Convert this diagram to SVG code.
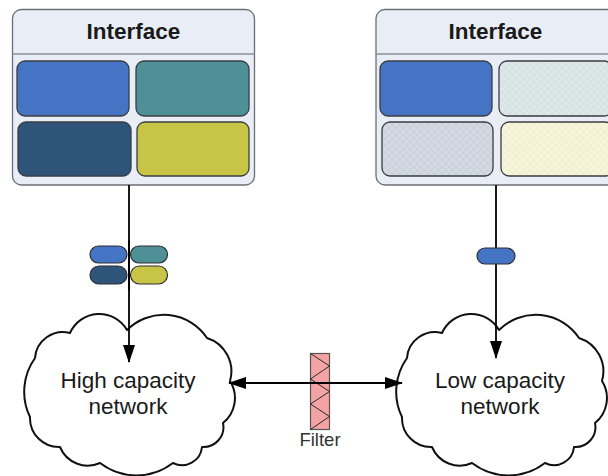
<svg xmlns="http://www.w3.org/2000/svg" width="608" height="476" viewBox="0 0 608 476">
  <style>
    .panel { fill: #e9edf5; stroke: #6b6f76; stroke-width: 1.3; }
    .sep { stroke: #8a8f98; stroke-width: 1.3; }
    .cell { stroke: #3a3d42; stroke-width: 1.3; }
    .head { font-family: "Liberation Sans", Arial, sans-serif; font-weight: bold; font-size: 22.5px; fill: #1a1a1a; text-anchor: middle; }
    .cloud { fill: #ffffff; stroke: #111111; stroke-width: 2; stroke-linejoin: round; }
    .label { font-family: "Liberation Sans", Arial, sans-serif; font-size: 22.5px; fill: #1a1a1a; text-anchor: middle; }
    .link { stroke: #000000; stroke-width: 1.8; fill: none; }
    .pill { stroke: #2c2f33; stroke-width: 1.2; }
  </style>
  <defs>
    <marker id="arrow" viewBox="0 0 18 12" refX="17" refY="6" markerWidth="18" markerHeight="12" markerUnits="userSpaceOnUse" orient="auto-start-reverse">
      <path d="M0,0 L18,6 L0,12 Z" fill="#000000"/>
    </marker>
    <pattern id="hatchTeal" width="5" height="5" patternUnits="userSpaceOnUse" patternTransform="rotate(45)">
      <rect width="5" height="5" fill="#dde9e8"/>
      <path d="M0,0 H5 M0,0 V5" stroke="#c5d6d6" stroke-width="0.8"/>
    </pattern>
    <pattern id="hatchGrey" width="5" height="5" patternUnits="userSpaceOnUse" patternTransform="rotate(45)">
      <rect width="5" height="5" fill="#d3dae3"/>
      <path d="M0,0 H5 M0,0 V5" stroke="#b8c1cc" stroke-width="0.8"/>
    </pattern>
    <pattern id="hatchYellow" width="5" height="5" patternUnits="userSpaceOnUse" patternTransform="rotate(45)">
      <rect width="5" height="5" fill="#f7f5da"/>
      <path d="M0,0 H5 M0,0 V5" stroke="#e8e5c4" stroke-width="0.8"/>
    </pattern>
    <!-- scalloped cloud outline, drawn around the left network -->
    <path id="cloudShape" d="M35,358 A28,28 0 0 1 70,333 A32,32 0 0 1 127,330 A52,52 0 0 1 207,338 A35,35 0 0 1 230,381 A32,32 0 0 1 223,423 A20,20 0 0 1 202,447 A20,20 0 0 1 173,463 A60,60 0 0 1 100,463 A30,30 0 0 1 60,447 A29,29 0 0 1 30,417 A58,58 0 0 1 35,358 Z"/>
  </defs>

  <!-- left interface panel -->
  <g id="interface-left">
    <rect class="panel" x="12.5" y="9.5" width="242" height="175.5" rx="9"/>
    <line class="sep" x1="12.5" y1="54" x2="254.5" y2="54"/>
    <text class="head" x="133.5" y="39">Interface</text>
    <rect class="cell" x="17" y="61" width="112" height="55" rx="8" fill="#4674c4"/>
    <rect class="cell" x="136" y="61" width="113" height="55" rx="8" fill="#4f9097"/>
    <rect class="cell" x="18" y="122" width="113" height="54" rx="8" fill="#2f5479"/>
    <rect class="cell" x="137" y="122" width="112" height="54" rx="8" fill="#c8c445"/>
  </g>

  <!-- right interface panel -->
  <g id="interface-right">
    <rect class="panel" x="376" y="9.5" width="242" height="175.5" rx="9"/>
    <line class="sep" x1="376" y1="54" x2="618" y2="54"/>
    <text class="head" x="495.5" y="39">Interface</text>
    <rect class="cell" x="380" y="61" width="112" height="55" rx="8" fill="#4674c4"/>
    <rect class="cell" x="499" y="61" width="113" height="55" rx="8" fill="url(#hatchTeal)" stroke="#6a6f74"/>
    <rect class="cell" x="382" y="122" width="111" height="54" rx="8" fill="url(#hatchGrey)" stroke="#6a6f74"/>
    <rect class="cell" x="501" y="122" width="112" height="54" rx="8" fill="url(#hatchYellow)" stroke="#6a6f74"/>
  </g>

  <!-- networks -->
  <g id="network-high">
    <use href="#cloudShape" class="cloud"/>
    <text class="label" x="128" y="388">High capacity</text>
    <text class="label" x="128" y="414">network</text>
  </g>
  <g id="network-low">
    <use href="#cloudShape" class="cloud" transform="translate(372,0)"/>
    <text class="label" x="500" y="388">Low capacity</text>
    <text class="label" x="500" y="414">network</text>
  </g>

  <!-- filter on the link between networks -->
  <g id="filter">
    <rect x="310.5" y="353.5" width="19" height="76" fill="#f4a3a4" stroke="#555555" stroke-width="1.2"/>
    <polyline points="310.5,353.5 329.5,366 310.5,379 329.5,391.5 310.5,404 329.5,416.5 310.5,429.5" fill="none" stroke="#2a2a2a" stroke-width="1"/>
    <text x="320" y="446" font-family="'Liberation Sans', Arial, sans-serif" font-size="18.5" fill="#333333" text-anchor="middle">Filter</text>
  </g>

  <!-- connectors -->
  <g id="connectors">
    <line class="link" x1="129" y1="185" x2="129" y2="362" marker-end="url(#arrow)"/>
    <line class="link" x1="496" y1="185" x2="496" y2="358" marker-end="url(#arrow)"/>
    <line class="link" x1="229" y1="383" x2="402" y2="383" marker-start="url(#arrow)" marker-end="url(#arrow)"/>
  </g>

  <!-- traffic tokens on the links -->
  <g id="tokens-high">
    <rect class="pill" x="90" y="246" width="37" height="17" rx="8.5" fill="#4674c4"/>
    <rect class="pill" x="130.5" y="246" width="37" height="17" rx="8.5" fill="#4f9097"/>
    <rect class="pill" x="90" y="266" width="37" height="18" rx="9" fill="#2f5479"/>
    <rect class="pill" x="130.5" y="266" width="37" height="18" rx="9" fill="#c8c445"/>
    <line class="link" x1="129" y1="240" x2="129" y2="290"/>
  </g>
  <g id="token-low">
    <rect class="pill" x="477" y="248" width="38" height="16" rx="8" fill="#4674c4"/>
  </g>
</svg>
